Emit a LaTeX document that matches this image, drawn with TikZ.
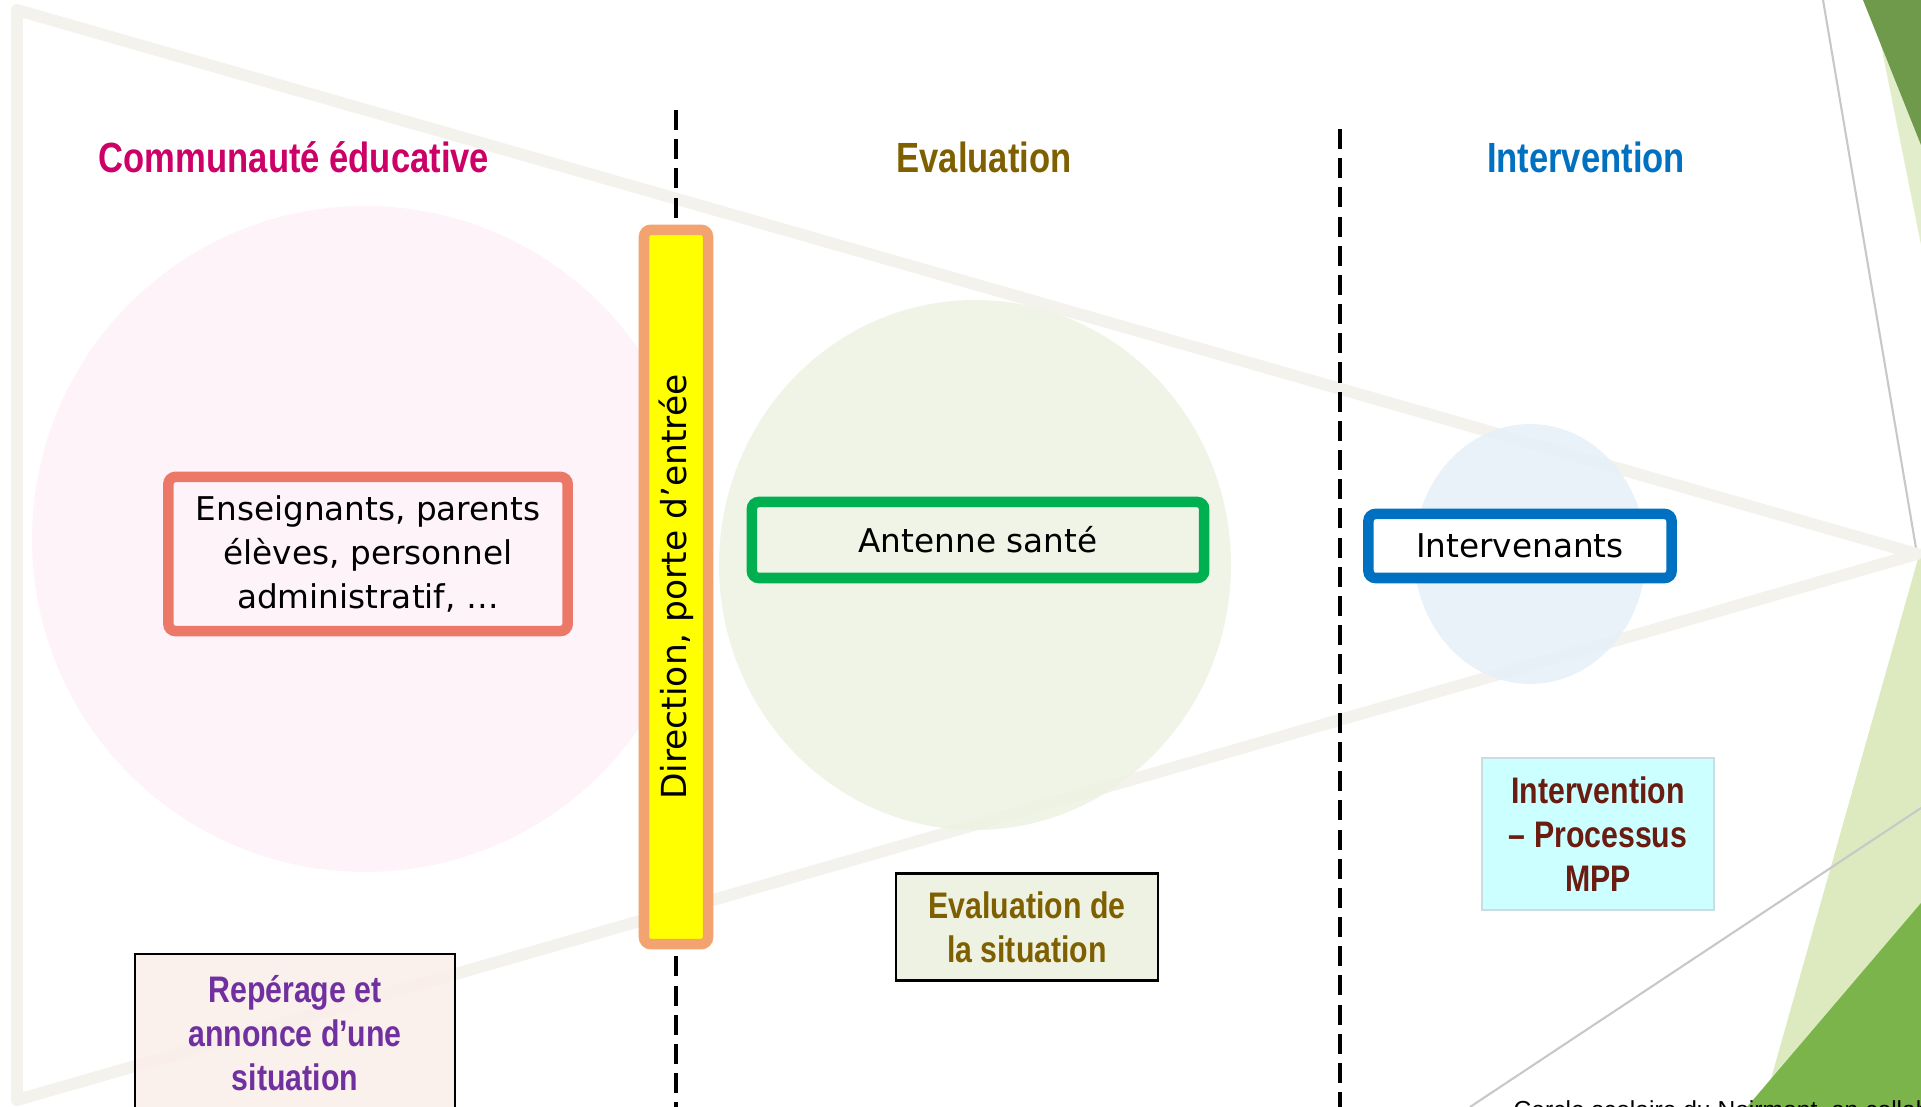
\documentclass[tikz,border=0pt]{standalone}
\usepackage{fontspec}
\setmainfont{DejaVu Sans}
\newfontfamily\narrowbf[FakeStretch=0.82]{Liberation Sans Bold}
\newfontfamily\footfont{Liberation Sans}
\usepackage[svgnames]{xcolor}
\usepackage{tikz}
\usetikzlibrary{positioning}

\definecolor{bandc}{HTML}{F3F2EC}
\definecolor{pinkc}{HTML}{FDF1F8}
\definecolor{sagec}{HTML}{EDF2E2}
\definecolor{skyc}{HTML}{E6F0F8}
\definecolor{magentac}{HTML}{CC0066}
\definecolor{olivec}{HTML}{7F6000}
\definecolor{bluec}{HTML}{0070C0}
\definecolor{purplec}{HTML}{7030A0}
\definecolor{brownc}{HTML}{6B1C10}
\definecolor{salmonc}{HTML}{EC7868}
\definecolor{orangec}{HTML}{F2A370}
\definecolor{greenc}{HTML}{00B050}
\definecolor{barc}{HTML}{FFFF00}
\definecolor{repc}{HTML}{FAEEEA}
\definecolor{evac}{HTML}{EEF2E2}
\definecolor{cyanc}{HTML}{CCFFFF}
\definecolor{mppline}{HTML}{C9DDE3}
\definecolor{leafl}{HTML}{E2EDCC}
\definecolor{leafd}{HTML}{6F9A4C}
\definecolor{grassl}{HTML}{DDEAC0}
\definecolor{grassd}{HTML}{7AB44B}
\definecolor{thinc}{HTML}{C8C8C8}

\begin{document}
\begin{tikzpicture}[x=0.01cm,y=-0.01cm,
   box/.style={draw,line width=3pt,rounded corners=2pt,align=center,font=\fontsize{9.3}{12.5}\selectfont},
   note/.style={draw,line width=0.7pt,align=center,font=\narrowbf\fontsize{10.5}{12.6}\selectfont},
   head/.style={font=\narrowbf\fontsize{12}{14}\selectfont},
   sep/.style={dash pattern=on 5.7pt off 2.6pt,line width=0.9pt}]
   \useasboundingbox (0,0) rectangle (1921,1107);
   \clip (0,0) rectangle (1921,1107);
   \fill[leafl] (1872,0) -- (1921,0) -- (1921,245) -- cycle;
   \fill[leafd] (1863,0) -- (1921,0) -- (1921,145) -- cycle;
   \fill[grassl] (1921,548) -- (1921,1107) -- (1763,1107) -- cycle;
   \fill[grassd] (1921,903) -- (1921,1107) -- (1747,1107) -- cycle;
   \draw[thinc,line width=0.6pt] (1823,0) -- (1917,554);
   \draw[thinc,line width=0.6pt] (1470,1107) -- (1921,808);
   \draw[bandc,line width=3.4pt,line join=round] (17,10) -- (1917,554) -- (17,1100) -- cycle;
   \fill[pinkc,opacity=.85] (365,539) circle [radius=333];
   \fill[sagec,opacity=.85] (975,565) ellipse [x radius=256,y radius=265];
   \fill[skyc,opacity=.85] (1530,554) ellipse [x radius=116,y radius=130];
   \draw[sep] (676,110) -- (676,1107);
   \draw[sep] (1340,129) -- (1340,1107);

   \node[head,text=magentac] (com) at (294,157) {Communauté éducative};
   \node[head,text=olivec] (eva) at (984,157) {Evaluation};
   \node[head,text=bluec] (int) at (1586,157) {Intervention};

   \node[box,draw=salmonc,minimum width=3.99cm,minimum height=1.54cm] (ens) at (368,554) {Enseignants, parents\\élèves, personnel\\administratif, …};
   \node[box,draw=greenc,minimum width=4.52cm,minimum height=0.76cm] (ant) at (978,540) {Antenne santé};
   \node[box,draw=bluec,fill=white,minimum width=3.03cm,minimum height=0.64cm] (itv) at (1520,546) {Intervenants};
   \node[box,draw=orangec,fill=barc,rotate=90,minimum width=7.14cm,minimum height=0.64cm,font=\fontsize{9.8}{12}\selectfont] (dir) at (676,587) {Direction, porte d’entrée};

   \node[note,fill=repc,fill opacity=.9,text opacity=1,text=purplec,minimum width=3.2cm,minimum height=1.58cm] (rep) at (295,1033) {Repérage et\\annonce d’une\\situation};
   \node[note,fill=evac,text=olivec,minimum width=2.62cm,minimum height=1.07cm] (evs) at (1027,927) {Evaluation de\\la situation};
   \node[note,draw=mppline,fill=cyanc,text=brownc,minimum width=2.32cm,minimum height=1.52cm] (mpp) at (1598,834) {Intervention\\– Processus\\MPP};

   \node[anchor=base west,inner sep=0pt,font=\footfont\fontsize{7}{8}\selectfont] (foot) at (1513,1118) {Cercle scolaire du Noirmont, en collab};
\end{tikzpicture}
\end{document}
